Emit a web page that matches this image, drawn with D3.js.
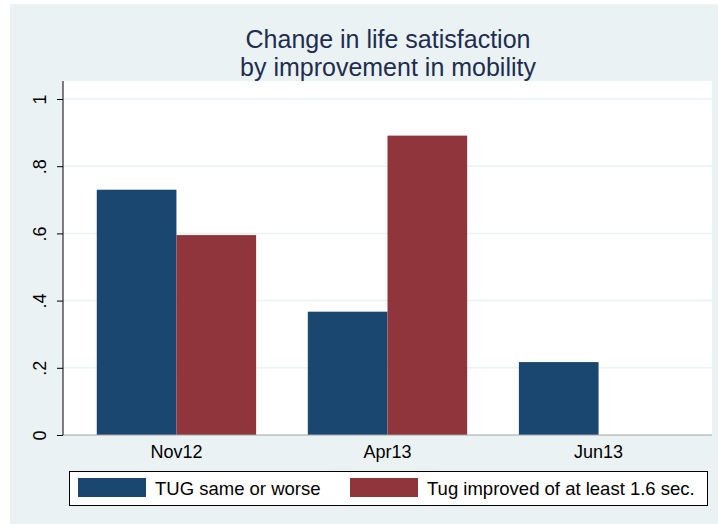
<!DOCTYPE html>
<html><head><meta charset="utf-8">
<script src="https://cdn.jsdelivr.net/npm/d3@7"></script>
<style>body{margin:0;background:#fff}svg{display:block}text{font-family:"Liberation Sans",Arial,sans-serif}</style>
</head><body>
<script>
const categories = ["Nov12","Apr13","Jun13"];
const seriesNames = ["TUG same or worse","Tug improved of at least 1.6 sec."];
const tugSameOrWorse = [0.730, 0.367, 0.217];
const tugImproved = [0.595, 0.891, 0];
const yTicks = [0, 0.2, 0.4, 0.6, 0.8, 1];
const yTickLabels = ["0", ".2", ".4", ".6", ".8", "1"];
const colors = ["#1a476f", "#90353b"];

const W = 718, H = 524;
const svg = d3.select("body").append("svg").attr("width", W).attr("height", H);
svg.append("rect").attr("x", 10).attr("y", 4).attr("width", W - 10).attr("height", H - 4).attr("fill", "#eaf2f3");

const plot = {l: 63, r: 712, t: 81, b: 435};
svg.append("rect").attr("x", plot.l).attr("y", plot.t).attr("width", plot.r - plot.l).attr("height", plot.b - plot.t).attr("fill", "#fff");

const y = d3.scaleLinear().domain([0, 1]).range([plot.b, 99]);
const x0 = d3.scaleBand().domain(categories).range([plot.l, plot.r]).paddingInner(0.245).paddingOuter(0.16);
const x1 = d3.scaleBand().domain([0, 1]).range([0, x0.bandwidth()]);

// gridlines
svg.append("g").selectAll("line").data(yTicks.filter(d => d > 0)).join("line")
  .attr("x1", plot.l).attr("x2", plot.r).attr("y1", d => y(d)).attr("y2", d => y(d))
  .attr("stroke", "#eaf2f3").attr("stroke-width", 1.5);

// bars
const data = categories.map((c, i) => ({c, v: [tugSameOrWorse[i], tugImproved[i]]}));
const g = svg.append("g").selectAll("g").data(data).join("g").attr("transform", d => `translate(${x0(d.c)},0)`);
g.selectAll("rect").data(d => d.v.map((v, k) => ({v, k}))).join("rect")
  .attr("x", d => x1(d.k)).attr("width", x1.bandwidth())
  .attr("y", d => y(d.v)).attr("height", d => y(0) - y(d.v))
  .attr("fill", d => colors[d.k]);

// x baseline
svg.append("line").attr("x1", plot.l).attr("x2", plot.r).attr("y1", plot.b).attr("y2", plot.b).attr("stroke", "#a0a4a6").attr("stroke-width", 1.2);

// y axis
const yAxis = d3.axisLeft(y).tickValues(yTicks).tickFormat((d, i) => yTickLabels[i]).tickSize(6).tickPadding(8);
const ya = svg.append("g").attr("transform", `translate(${plot.l},0)`).call(yAxis);
ya.select(".domain").attr("d", `M0,${plot.t}V${plot.b}`).attr("stroke", "#000");
ya.selectAll(".tick line").attr("stroke", "#000");
ya.selectAll(".tick text").attr("font-size", 18).attr("fill", "#000")
  .attr("text-anchor", "middle").attr("dy", null)
  .attr("transform", "translate(-23,0) rotate(-90)").attr("x", 0).attr("y", 0).attr("dominant-baseline", "central");

// x axis labels
const xAxis = d3.axisBottom(x0).tickSize(0).tickPadding(10);
const xa = svg.append("g").attr("transform", `translate(0,${plot.b})`).call(xAxis);
xa.select(".domain").remove();
xa.selectAll(".tick text").attr("font-size", 18).attr("fill", "#000").attr("y", 0).attr("dy", null).attr("dominant-baseline", "central").attr("transform", "translate(0,17)");

// title
const title = svg.append("text").attr("x", 388).attr("text-anchor", "middle").attr("fill", "#1e2d50").attr("font-size", 25);
title.append("tspan").attr("x", 388).attr("y", 48).text("Change in life satisfaction");
title.append("tspan").attr("x", 388).attr("y", 76).text("by improvement in mobility");

// legend
const leg = svg.append("g");
leg.append("rect").attr("x", 69.5).attr("y", 471.5).attr("width", 638).attr("height", 34).attr("fill", "#fff").attr("stroke", "#000").attr("stroke-width", 1);
const legX = [78, 350];
seriesNames.forEach((n, i) => {
  leg.append("rect").attr("x", legX[i]).attr("y", 478).attr("width", 68).attr("height", 19).attr("fill", colors[i]);
  leg.append("text").attr("x", legX[i] + 77).attr("y", 488.5).attr("dominant-baseline", "central").attr("font-size", 18.5).attr("fill", "#000").text(n);
});
</script>
</body></html>
